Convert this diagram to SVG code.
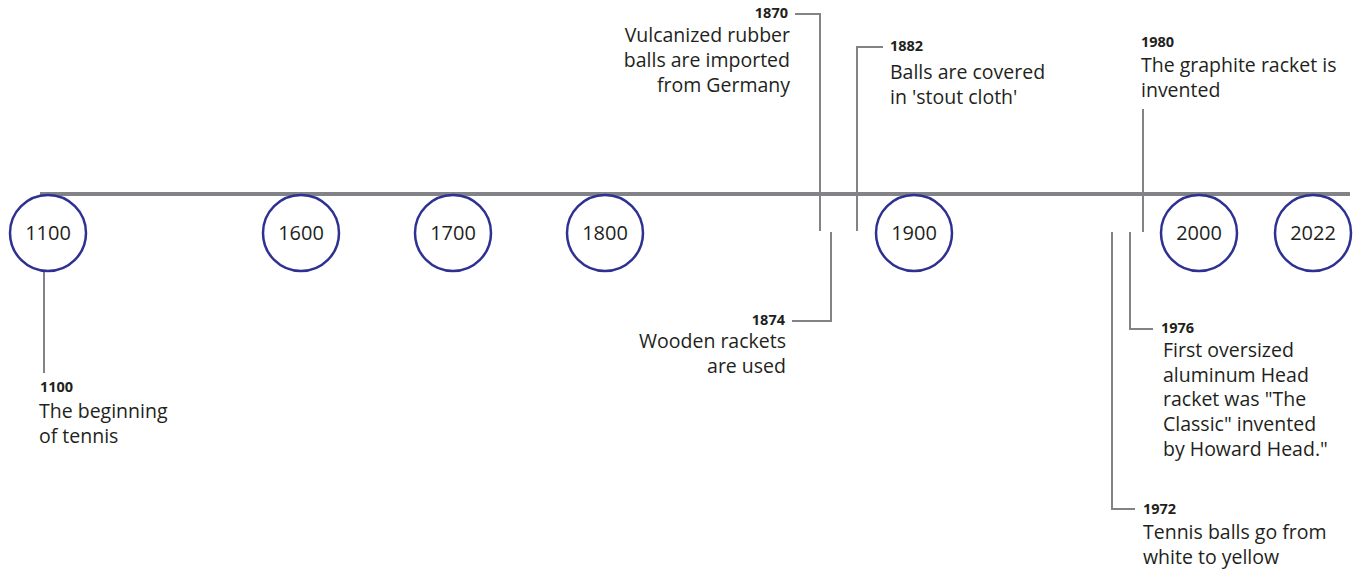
<svg xmlns="http://www.w3.org/2000/svg" width="1358" height="570" viewBox="0 0 1358 570">
<style>
.axis{stroke:#818386;stroke-width:4;fill:none}
.conn{stroke:#818386;stroke-width:2;fill:none}
.circ{fill:#fff;stroke:#2e3192;stroke-width:2.5}
.ct{font-family:"Open Sans",sans-serif;font-size:20px;fill:#231f20;text-anchor:middle}
.yr{font-family:"Open Sans",sans-serif;font-size:14.5px;font-weight:bold;fill:#231f20}
.tx{font-family:"Open Sans",sans-serif;font-size:19.5px;fill:#231f20}
.r{text-anchor:end}
</style>
<rect width="1358" height="570" fill="#fff"/>
<g id="connectors">
<line class="axis" x1="40" y1="194" x2="1350" y2="194"/>
<line class="conn" x1="44" y1="272" x2="44" y2="373"/>
<polyline class="conn" points="795,14 820,14 820,231"/>
<polyline class="conn" points="883,47 857,47 857,231"/>
<polyline class="conn" points="792,321 831,321 831,232"/>
<line class="conn" x1="1143" y1="109" x2="1143" y2="232"/>
<polyline class="conn" points="1112,232 1112,509 1135,509"/>
<polyline class="conn" points="1130,232 1130,329 1153,329"/>
</g>
<g id="n1100"><circle class="circ" cx="48" cy="233" r="38"/><text class="ct" x="48" y="240">1100</text></g>
<g id="n1600"><circle class="circ" cx="301" cy="233" r="38"/><text class="ct" x="301" y="240">1600</text></g>
<g id="n1700"><circle class="circ" cx="453" cy="233" r="38"/><text class="ct" x="453" y="240">1700</text></g>
<g id="n1800"><circle class="circ" cx="605" cy="233" r="38"/><text class="ct" x="605" y="240">1800</text></g>
<g id="n1900"><circle class="circ" cx="914" cy="233" r="38"/><text class="ct" x="914" y="240">1900</text></g>
<g id="n2000"><circle class="circ" cx="1199" cy="233" r="38"/><text class="ct" x="1199" y="240">2000</text></g>
<g id="n2022"><circle class="circ" cx="1313" cy="233" r="38"/><text class="ct" x="1313" y="240">2022</text></g>
<g id="e1100"><text class="yr" x="40" y="392">1100</text><text class="tx" x="39" y="418">The beginning</text><text class="tx" x="39" y="443">of tennis</text></g>
<g id="e1870"><text class="yr r" x="788" y="18">1870</text><text class="tx r" x="790" y="42">Vulcanized rubber</text><text class="tx r" x="790" y="67">balls are imported</text><text class="tx r" x="790" y="92">from Germany</text></g>
<g id="e1882"><text class="yr" x="890" y="51">1882</text><text class="tx" x="890" y="79">Balls are covered</text><text class="tx" x="890" y="104">in 'stout cloth'</text></g>
<g id="e1874"><text class="yr r" x="785" y="325">1874</text><text class="tx r" x="786" y="348">Wooden rackets</text><text class="tx r" x="786" y="373">are used</text></g>
<g id="e1980"><text class="yr" x="1141" y="47">1980</text><text class="tx" x="1141" y="72">The graphite racket is</text><text class="tx" x="1141" y="97">invented</text></g>
<g id="e1976"><text class="yr" x="1161" y="333">1976</text><text class="tx" x="1163" y="357">First oversized</text><text class="tx" x="1163" y="382">aluminum Head</text><text class="tx" x="1163" y="406">racket was "The</text><text class="tx" x="1163" y="431">Classic" invented</text><text class="tx" x="1163" y="456">by Howard Head."</text></g>
<g id="e1972"><text class="yr" x="1143" y="514">1972</text><text class="tx" x="1143" y="539">Tennis balls go from</text><text class="tx" x="1143" y="564">white to yellow</text></g>
</svg>
